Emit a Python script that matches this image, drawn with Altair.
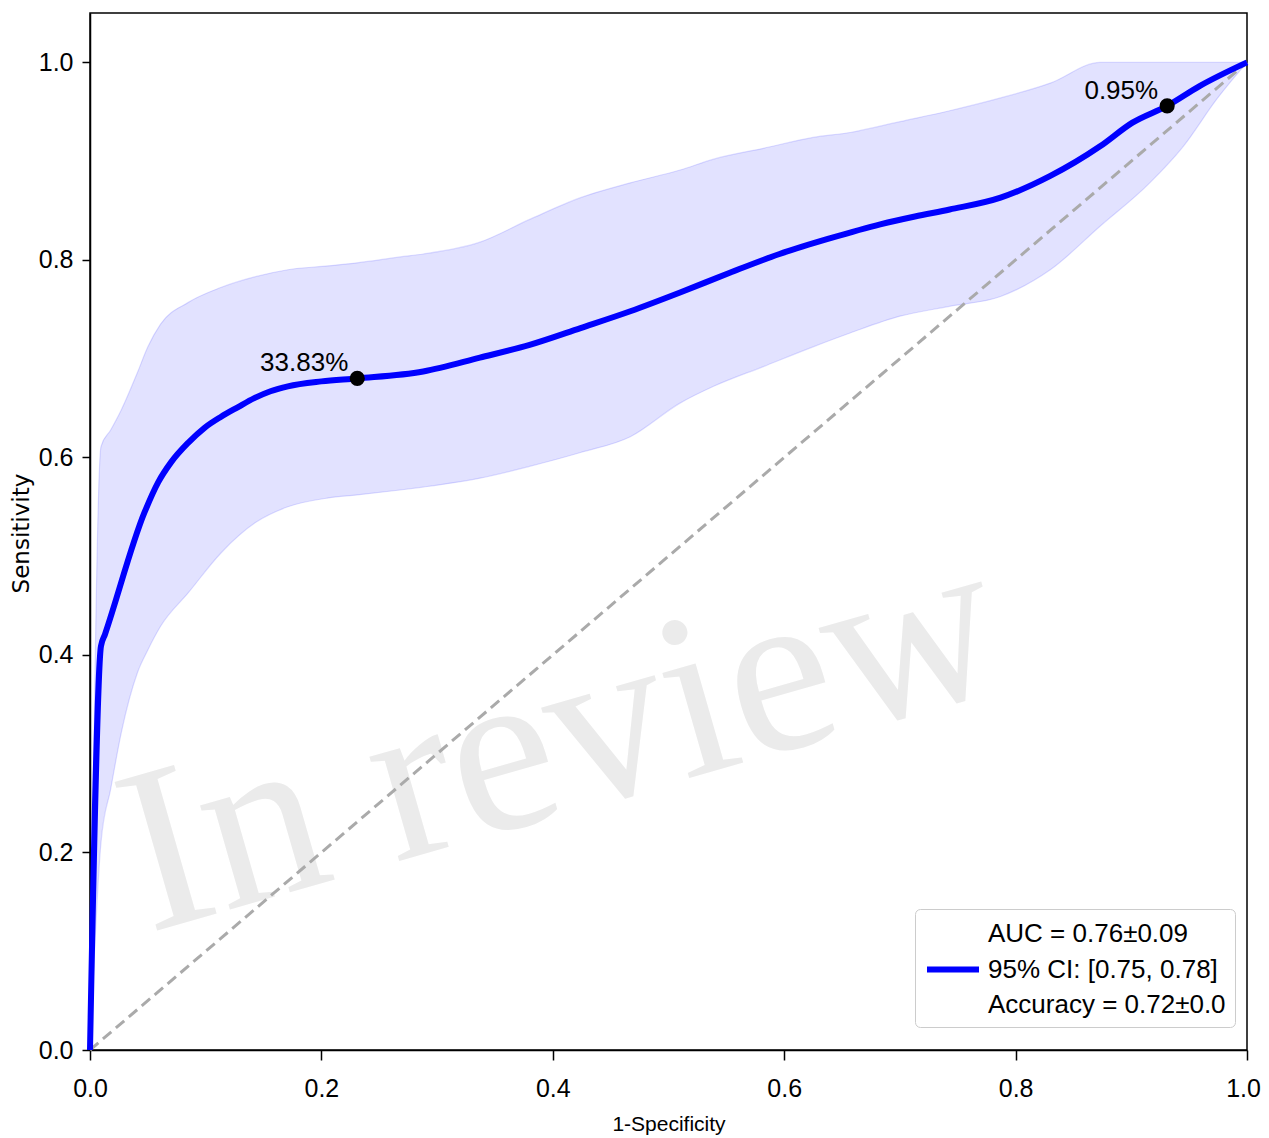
import altair as alt
import pandas as pd

SANS = "Liberation Sans"

# Mean ROC curve (1-Specificity, Sensitivity)
roc_fpr = [0.0, 0.0095, 0.013, 0.047, 0.059, 0.070, 0.085, 0.099, 0.113, 0.128,
           0.142, 0.156, 0.171, 0.200, 0.231, 0.288, 0.337, 0.380, 0.424, 0.467,
           0.510, 0.553, 0.596, 0.640, 0.683, 0.713, 0.743, 0.787, 0.830, 0.873,
           0.901, 0.931, 0.959, 1.0]
roc_tpr = [0.0, 0.409, 0.421, 0.544, 0.575, 0.595, 0.615, 0.630, 0.641, 0.651,
           0.660, 0.667, 0.672, 0.677, 0.680, 0.687, 0.701, 0.714, 0.731, 0.748,
           0.767, 0.787, 0.806, 0.822, 0.836, 0.844, 0.851, 0.863, 0.885, 0.915,
           0.939, 0.956, 0.976, 1.0]

# Confidence band
band_fpr = [0.0, 0.0095, 0.018, 0.027, 0.041, 0.050, 0.061, 0.085, 0.113, 0.143,
            0.171, 0.206, 0.231, 0.268, 0.288, 0.337, 0.380, 0.424, 0.467, 0.510,
            0.539, 0.582, 0.625, 0.657, 0.700, 0.743, 0.787, 0.830, 0.873, 0.916,
            0.945, 0.974, 1.0]
band_lower = [0.0, 0.210, 0.265, 0.321, 0.382, 0.405, 0.429, 0.463, 0.503, 0.534,
              0.550, 0.559, 0.562, 0.567, 0.570, 0.579, 0.591, 0.605, 0.621, 0.655,
              0.672, 0.692, 0.712, 0.726, 0.743, 0.753, 0.763, 0.790, 0.834, 0.878,
              0.915, 0.963, 1.0]
band_upper = [0.0, 0.611, 0.628, 0.648, 0.686, 0.712, 0.735, 0.757, 0.772, 0.783,
              0.790, 0.794, 0.797, 0.803, 0.806, 0.818, 0.841, 0.863, 0.878, 0.891,
              0.902, 0.913, 0.924, 0.929, 0.940, 0.951, 0.964, 0.979, 1.0, 1.0,
              1.0, 1.0, 1.0]

diag_x = [0.0, 1.0]
diag_y = [0.0, 1.0]

mark_fpr = [0.231, 0.931]
mark_tpr = [0.680, 0.956]
mark_text = ["33.83%", "0.95%"]

legend_lines = ["AUC = 0.76\u00b10.09", "95% CI: [0.75, 0.78]", "Accuracy = 0.72\u00b10.0"]
legend_colors = ["#ffffff", "#0000ff", "#ffffff"]

x_ticks = [0.0, 0.2, 0.4, 0.6, 0.8, 1.0]
y_ticks = [0.0, 0.2, 0.4, 0.6, 0.8, 1.0]

watermark_text = ["In review"]
watermark_x = [0.424]
watermark_y = [0.244]

roc_df = pd.DataFrame({"fpr": roc_fpr, "tpr": roc_tpr, "series": legend_lines[1]})
band_df = pd.DataFrame({"fpr": band_fpr, "lower": band_lower, "upper": band_upper})
diag_df = pd.DataFrame({"fpr": diag_x, "tpr": diag_y})
mark_df = pd.DataFrame({"fpr": mark_fpr, "tpr": mark_tpr, "label": mark_text})
wm_df = pd.DataFrame({"fpr": watermark_x, "tpr": watermark_y, "label": watermark_text})

xs = alt.Scale(domain=[0, 1], nice=False, zero=False)
ys = alt.Scale(domain=[0, 1.05], nice=False, zero=False)

x_axis = alt.Axis(values=x_ticks, format=".1f", title="1-Specificity",
                  titleFont=SANS, titleFontSize=21, titleFontWeight="normal",
                  titleColor="black", titleY=80, titleBaseline="alphabetic",
                  labelFont=SANS, labelFontSize=25, labelColor="black",
                  labelPadding=16, labelFlush=False, labelOverlap=False,
                  labelOffset=alt.condition("datum.value == 1", alt.value(-4), alt.value(0)),
                  tickSize=10, tickColor="black", tickWidth=1.5,
                  domainColor="black", domainWidth=1.5, grid=False)
y_axis = alt.Axis(values=y_ticks, format=".1f", title="Sensitivity",
                  titleFont="DejaVu Sans", titleFontSize=23, titleFontWeight="normal",
                  titleColor="black", titleX=-62, titleY=520, titleAngle=270,
                  titleBaseline="alphabetic", titleAlign="center",
                  labelFont=SANS, labelFontSize=25, labelColor="black",
                  labelPadding=9, labelFlush=False, labelOverlap=False,
                  tickSize=8, tickColor="black", tickWidth=1.5,
                  domainColor="black", domainWidth=1.5, grid=False)


def X(field):
    return alt.X(field, type="quantitative", scale=xs, axis=x_axis)


def Y(field):
    return alt.Y(field, type="quantitative", scale=ys, axis=y_axis)


watermark = alt.Chart(wm_df).mark_text(
    font="Liberation Serif", fontSize=236, color="#ebebeb", angle=344,
    align="center", baseline="alphabetic"
).encode(x=X("fpr"), y=Y("tpr"), text="label:N")

band = alt.Chart(band_df).mark_area(
    interpolate="monotone", fill="#0000ff", fillOpacity=0.115,
    stroke="#0000ff", strokeOpacity=0.13, strokeWidth=1.2
).encode(x=X("fpr"), y=Y("lower"), y2="upper")

diag = alt.Chart(diag_df).mark_line(
    color="#aaaaaa", strokeWidth=3, strokeDash=[11, 6]
).encode(x=X("fpr"), y=Y("tpr"))

roc = alt.Chart(roc_df).mark_line(
    strokeWidth=6, interpolate="monotone", strokeJoin="round"
).encode(
    x=X("fpr"), y=Y("tpr"),
    color=alt.Color("series:N",
                    scale=alt.Scale(domain=legend_lines, range=legend_colors),
                    legend=alt.Legend(
                        title=None, orient="none", legendX=825, legendY=896,
                        symbolType="M-1,0H3", symbolStrokeWidth=6, symbolSize=676,
                        labelFont=SANS, labelFontSize=26, labelColor="black",
                        labelLimit=600, labelOffset=32, padding=9, rowPadding=6.5,
                        strokeColor="#cccccc", fillColor="white", cornerRadius=5))
)

points = alt.Chart(mark_df).mark_circle(size=230, color="black", opacity=1).encode(
    x=X("fpr"), y=Y("tpr"))

labels = alt.Chart(mark_df).mark_text(
    align="right", baseline="alphabetic", dx=-9, dy=-7, fontSize=26,
    font=SANS, color="black"
).encode(x=X("fpr"), y=Y("tpr"), text="label:N")

chart = alt.layer(watermark, band, diag, roc, points, labels).properties(
    width=1157, height=1037,
    autosize=alt.AutoSizeParams(type="none"),
    padding={"left": 82, "top": 5, "right": 14, "bottom": 90},
).configure_view(stroke="black", strokeWidth=1.5)

chart.save("out.html", embed_options={"renderer": "svg", "actions": False})
